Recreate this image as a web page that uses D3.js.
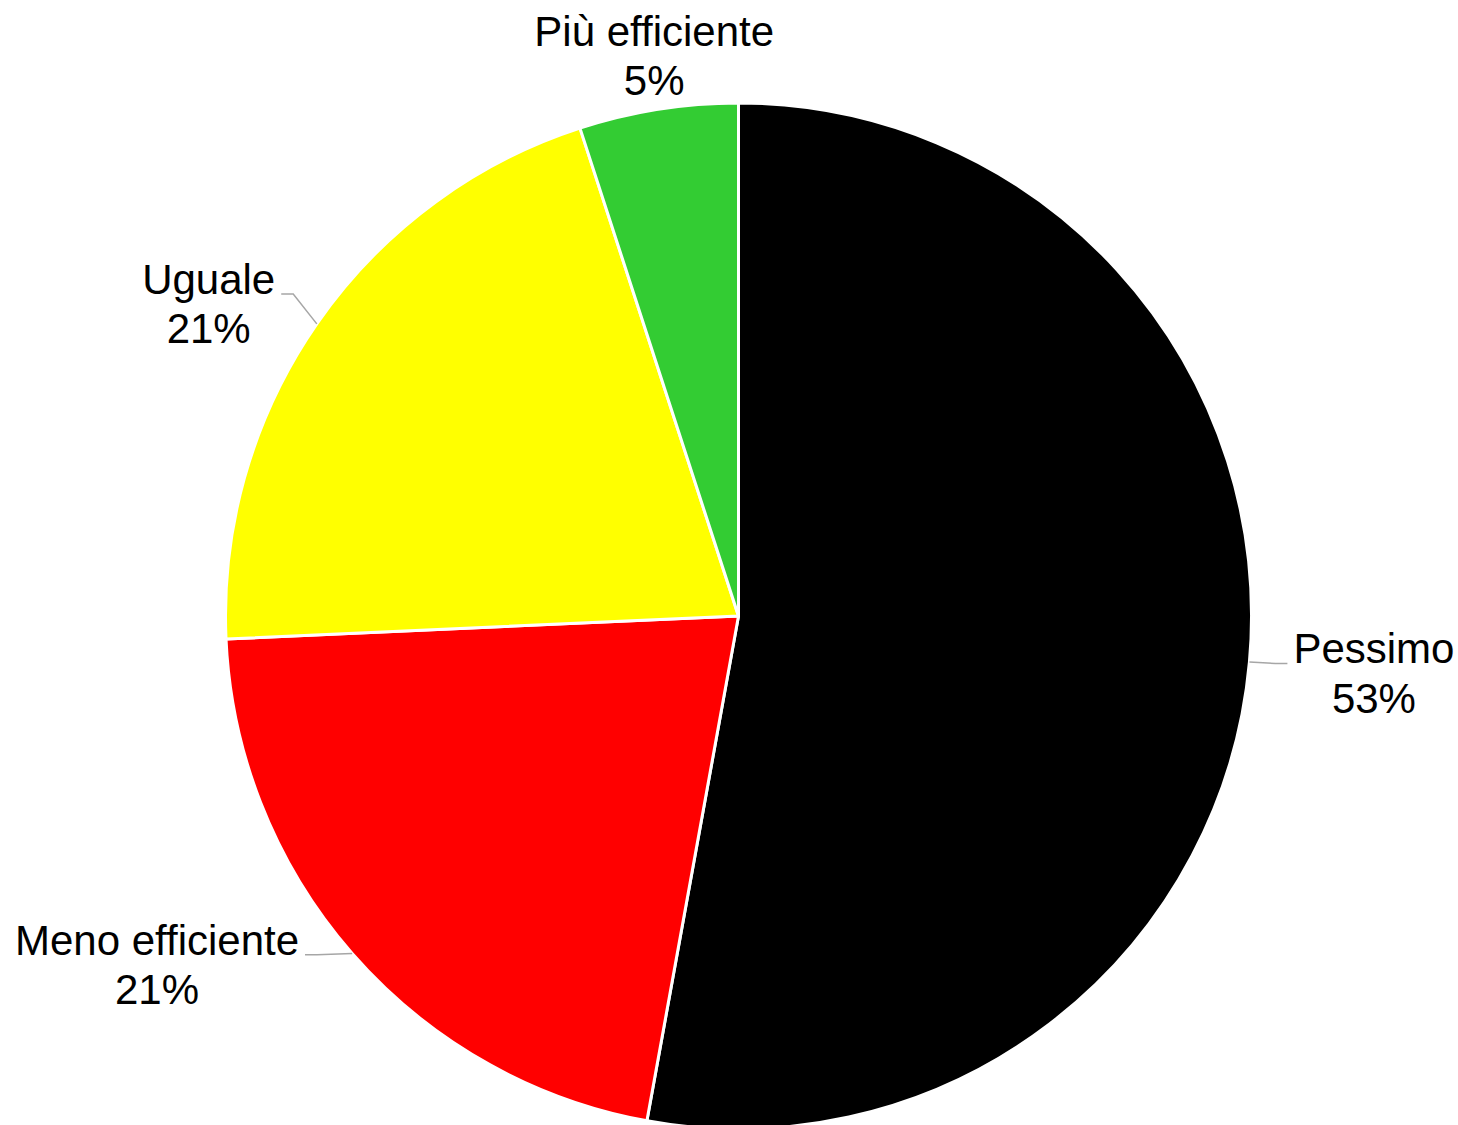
<!DOCTYPE html>
<html>
<head>
<meta charset="utf-8">
<script src="https://cdn.jsdelivr.net/npm/d3@7"></script>
<style>
  body { margin: 0; background: #ffffff; }
  svg text { font-family: "Liberation Sans", Arial, sans-serif; font-size: 42px; fill: #000000; }
</style>
</head>
<body>
<div id="chart"></div>
<script>
// ---- data ----
const categories = ['Pessimo', 'Meno efficiente', 'Uguale', 'Più efficiente'];
const counts = [74, 30, 29, 7];
const colours = ['#000000', '#ff0000', '#ffff00', '#33cc33'];

// label placement (distance of label centre from pie centre, turn from slice mid-angle in degrees)
const labelRadius = [638, 678, 615, 567];
const labelTurn = [0, 10.2, -4.2, 0.45];
const hasLeader = [true, true, true, false];

const width = 1458, height = 1125;
const cx = 738.5, cy = 616, radius = 513;
const lineGap = 49.5;

const svg = d3.select('#chart').append('svg')
    .attr('width', width)
    .attr('height', height);

const plot = svg.append('g')
    .attr('transform', `translate(${cx}, ${cy})`);

const total = d3.sum(counts);
const data = categories.map((name, i) => ({ name: name, value: counts[i], i: i }));

const pie = d3.pie()
    .sort(null)
    .value(d => d.value);

const arc = d3.arc()
    .innerRadius(0)
    .outerRadius(radius);

const arcs = pie(data);

plot.selectAll('.slice')
    .data(arcs)
    .enter()
    .append('path')
    .attr('class', 'slice')
    .attr('d', arc)
    .attr('fill', d => colours[d.data.i])
    .attr('stroke', '#ffffff')
    .attr('stroke-width', 3)
    .attr('stroke-linejoin', 'round');

const polar = (a, r) => [r * Math.sin(a), -r * Math.cos(a)];

const labels = plot.selectAll('.label')
    .data(arcs)
    .enter()
    .append('g')
    .attr('class', 'label');

labels.each(function (d) {
    const i = d.data.i;
    const mid = (d.startAngle + d.endAngle) / 2;
    const a = mid + labelTurn[i] * Math.PI / 180;
    const [lx, ly] = polar(a, labelRadius[i]);
    const b1 = ly - 9.75;
    const g = d3.select(this);

    const t1 = g.append('text')
        .attr('x', lx)
        .attr('y', b1)
        .attr('text-anchor', 'middle')
        .text(d.data.name);

    g.append('text')
        .attr('x', lx)
        .attr('y', b1 + lineGap)
        .attr('text-anchor', 'middle')
        .text(Math.round(d.data.value / total * 100) + '%');

    if (hasLeader[i]) {
        const w = t1.node().getComputedTextLength();
        const side = lx < 0 ? 1 : -1; // towards the pie
        const ax = lx + side * (w / 2 + 6);
        const ex = ax + side * 12;
        const edge = polar(mid, radius);
        plot.insert('path', '.label')
            .attr('d', d3.line()([[ax, b1], [ex, b1], edge]))
            .attr('fill', 'none')
            .attr('stroke', '#a6a6a6')
            .attr('stroke-width', 1.5);
    }
});
</script>
</body>
</html>
